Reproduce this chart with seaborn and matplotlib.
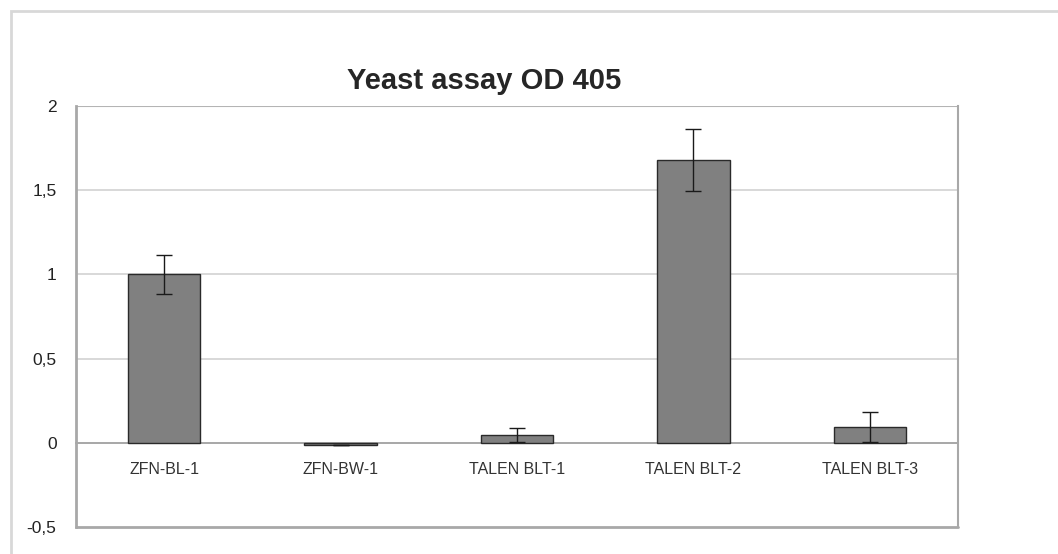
import matplotlib
matplotlib.use("Agg")
import matplotlib.pyplot as plt
import seaborn as sns
import pandas as pd
from matplotlib.patches import Rectangle

constructs = ['ZFN-BL-1', 'ZFN-BW-1', 'TALEN BLT-1', 'TALEN BLT-2', 'TALEN BLT-3']
od405 = [1.0, -0.015, 0.045, 1.68, 0.095]
od405_err = [0.115, 0.0, 0.04, 0.185, 0.09]
y_ticks = [-0.5, 0, 0.5, 1, 1.5, 2]
y_tick_labels = ['-0,5', '0', '0,5', '1', '1,5', '2']

df = pd.DataFrame({'Construct': constructs, 'OD405': od405})

sns.set_style('white')
plt.rcParams['font.family'] = ['Liberation Sans', 'DejaVu Sans']

fig = plt.figure(figsize=(10.58, 5.54), dpi=100)
ax = fig.add_axes([0.0718, 0.0487, 0.8337, 0.76])

sns.barplot(data=df, x='Construct', y='OD405', color='#808080', saturation=1,
            edgecolor='#2a2a2a', linewidth=1.0, width=0.41, errorbar=None,
            ax=ax, zorder=3)
ax.errorbar(range(len(constructs)), od405, yerr=od405_err, fmt='none',
            ecolor='#1a1a1a', elinewidth=1.0, capsize=5.5, capthick=1.0, zorder=5)

ax.set_ylim(-0.5, 2)
ax.set_xlim(-0.5, len(constructs) - 0.5)
ax.set_yticks(y_ticks)
ax.set_yticklabels(y_tick_labels, fontsize=12.5, color='#222222')
for y in y_ticks[2:]:
    ax.axhline(y, color='#d2d2d2', linewidth=1.2, zorder=0)
ax.axhline(-0.5, color='#a8a8a8', linewidth=2, zorder=1, clip_on=False)

# x axis drawn on the zero line, as in the source
ax.spines['bottom'].set_position(('data', 0))
ax.spines['bottom'].set_color('#a0a0a0')
ax.spines['bottom'].set_linewidth(1.3)
ax.spines['bottom'].set_zorder(0.5)
ax.spines['left'].set_color('#a8a8a8')
ax.spines['left'].set_linewidth(2)
ax.spines['right'].set_color('#a8a8a8')
ax.spines['right'].set_linewidth(1.5)
ax.spines['top'].set_visible(False)
ax.axhline(2, color='#b4b4b4', linewidth=1.5, zorder=0)

ax.set_xticks([i - 0.5 for i in range(len(constructs) + 1)], minor=True)
ax.tick_params(axis='x', which='minor', direction='out', length=4, color='#c0c0c0')
ax.tick_params(axis='x', which='major', length=0, pad=14)
ax.set_xticklabels(constructs, fontsize=11.5, color='#333333')
ax.tick_params(axis='y', direction='out', length=4, color='#c0c0c0', pad=10)

ax.set_xlabel('')
ax.set_ylabel('')
ax.set_title('Yeast assay OD 405', fontsize=21, fontweight='bold', pad=12, x=0.4626)

fig.patches.append(Rectangle((11 / 1058, -0.02), 1.1, (554 - 11) / 554 + 0.02,
                             transform=fig.transFigure, fill=False,
                             edgecolor='#d8d8d8', linewidth=2))

fig.savefig('out.png', dpi=100)
